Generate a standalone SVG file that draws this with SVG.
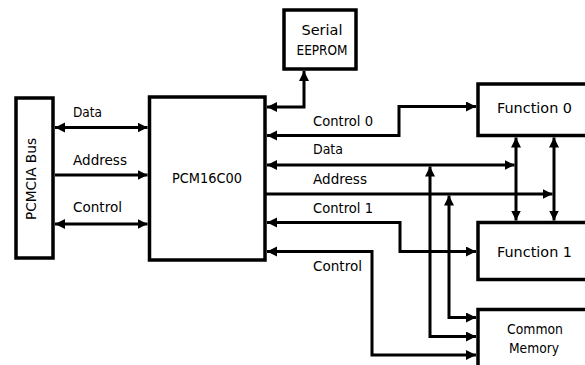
<svg xmlns="http://www.w3.org/2000/svg" width="585" height="365" viewBox="0 0 585 365">
<style>
.box{fill:#fff;stroke:#000;stroke-width:3.5}
.ln{fill:none;stroke:#000;stroke-width:3}
.a2{marker-start:url(#ah);marker-end:url(#ah)}
.a1{marker-end:url(#ah)}
text{font-family:"DejaVu Sans","Liberation Sans",sans-serif;font-size:14px;fill:#000}
.c{text-anchor:middle}
</style>
<defs>
<marker id="ah" markerUnits="userSpaceOnUse" markerWidth="11" markerHeight="11" refX="10" refY="5" orient="auto-start-reverse" viewBox="0 0 11 11">
<path d="M0,0 L10,5 L0,10 z" fill="#000"/>
</marker>
</defs>
<rect width="585" height="365" fill="#fff"/>
<g id="connectors">
<path class="ln a2" d="M55,127.5 H147.5"/>
<path class="ln a1" d="M55,175 H147.5"/>
<path class="ln a2" d="M55,224 H147.5"/>
<path class="ln a2" d="M267,107 H304 V71"/>
<path class="ln a2" d="M267,135.5 H399 V106.5 H476"/>
<path class="ln a2" d="M267,165 H514.5"/>
<path class="ln a1" d="M265,194 H552.5"/>
<path class="ln a2" d="M516,137.5 V220.5"/>
<path class="ln a2" d="M554,137.5 V220.5"/>
<path class="ln a2" d="M267,222.5 H400 V251.5 H476"/>
<path class="ln a2" d="M267,251.5 H372 V355 H476"/>
<path class="ln a2" d="M430,166.5 V336.5 H476"/>
<path class="ln a2" d="M449,195.5 V317.5 H476"/>
</g>
<g id="pcmcia">
<rect class="box" x="16" y="98" width="37" height="160"/>
<text class="c" transform="translate(36,179) rotate(-90)" textLength="82" lengthAdjust="spacingAndGlyphs">PCMCIA Bus</text>
</g>
<g id="pcm16c00">
<rect class="box" x="149.5" y="97" width="115.5" height="163"/>
<text class="c" x="207" y="183" textLength="70" lengthAdjust="spacingAndGlyphs">PCM16C00</text>
</g>
<g id="eeprom">
<rect class="box" x="284" y="10" width="72" height="59"/>
<text class="c" x="322" y="35" textLength="41" lengthAdjust="spacingAndGlyphs">Serial</text>
<text class="c" x="322" y="55" textLength="51" lengthAdjust="spacingAndGlyphs">EEPROM</text>
</g>
<g id="function0">
<rect class="box" x="478" y="84" width="120" height="51.5"/>
<text x="497" y="113" textLength="75" lengthAdjust="spacingAndGlyphs">Function 0</text>
</g>
<g id="function1">
<rect class="box" x="478" y="222.5" width="120" height="57"/>
<text x="497" y="257" textLength="75" lengthAdjust="spacingAndGlyphs">Function 1</text>
</g>
<g id="common">
<rect class="box" x="478" y="309.5" width="120" height="70"/>
<text class="c" x="535" y="334" textLength="56" lengthAdjust="spacingAndGlyphs">Common</text>
<text class="c" x="534" y="353" textLength="50" lengthAdjust="spacingAndGlyphs">Memory</text>
</g>
<g id="labels">
<text x="73" y="117" textLength="29" lengthAdjust="spacingAndGlyphs">Data</text>
<text x="73" y="165" textLength="54" lengthAdjust="spacingAndGlyphs">Address</text>
<text x="73" y="212" textLength="49" lengthAdjust="spacingAndGlyphs">Control</text>
<text x="313" y="126" textLength="60" lengthAdjust="spacingAndGlyphs">Control 0</text>
<text x="313" y="154" textLength="30" lengthAdjust="spacingAndGlyphs">Data</text>
<text x="313" y="184" textLength="54" lengthAdjust="spacingAndGlyphs">Address</text>
<text x="313" y="212.5" textLength="60" lengthAdjust="spacingAndGlyphs">Control 1</text>
<text x="313" y="270.5" textLength="49" lengthAdjust="spacingAndGlyphs">Control</text>
</g>
</svg>
